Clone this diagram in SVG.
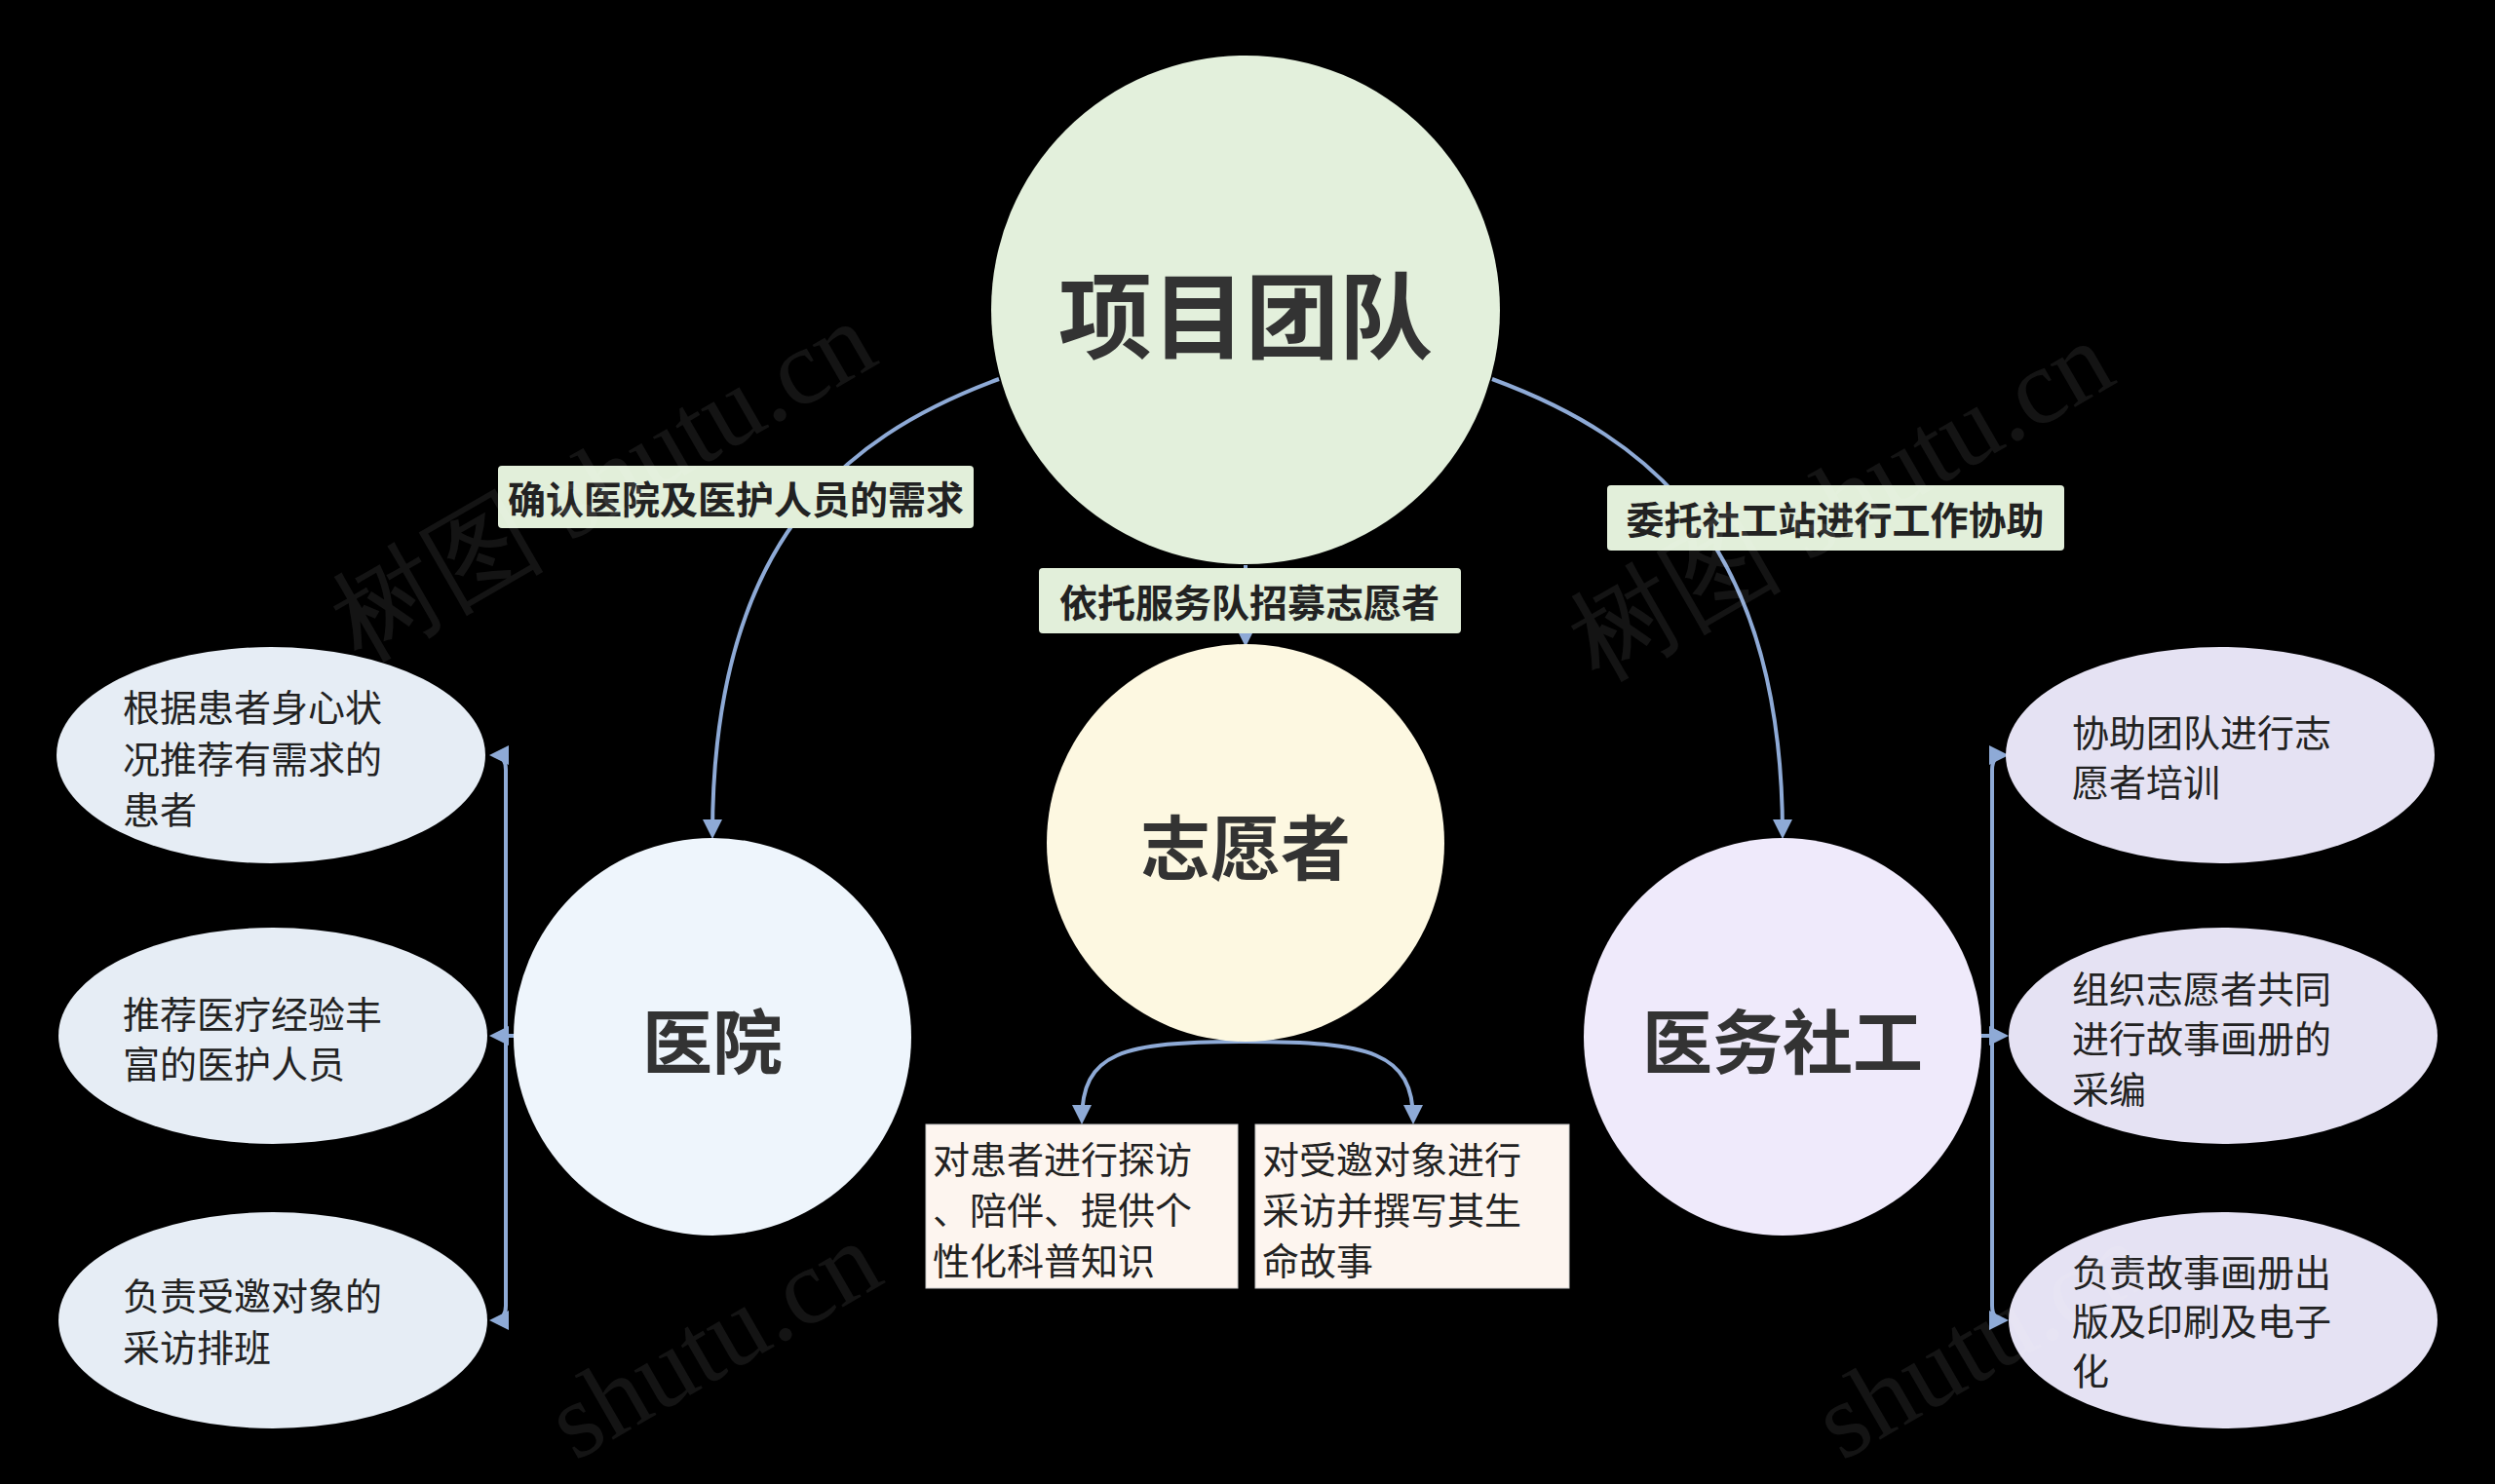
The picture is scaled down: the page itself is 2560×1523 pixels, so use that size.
<svg xmlns="http://www.w3.org/2000/svg" width="2560" height="1523" viewBox="0 0 2560 1523">
<style>
text{font-family:"Noto Sans CJK SC","Noto Sans",sans-serif;fill:#222}
.c{stroke:#8eaad6;stroke-width:4;fill:none}
.t{font-size:38px;dominant-baseline:central}
.lb{font-size:39px;font-weight:bold;text-anchor:middle;dominant-baseline:central}
.big{font-weight:bold;text-anchor:middle;dominant-baseline:central;fill:#333}
.wm{font-family:"Liberation Serif",serif;font-size:110px;fill:#fff;opacity:0.08}
</style>
<defs><marker id="a" viewBox="0 0 10 10" refX="8" refY="5" markerWidth="5" markerHeight="5" orient="auto"><path d="M0,0L10,5L0,10z" fill="#8eaad6"/></marker></defs>
<rect width="2560" height="1523" fill="#000"/>
<g id="connectors">
<path class="c" marker-end="url(#a)" d="M1025,389 C860,450 731,560 731,857"/>
<path class="c" marker-end="url(#a)" d="M1531,389 C1696,450 1829,560 1829,857"/>
<path class="c" marker-end="url(#a)" d="M1278,580 L1278,660"/>
<path class="c" marker-end="url(#a)" d="M1278,1069 C1150,1069 1110,1080 1110,1150"/>
<path class="c" marker-end="url(#a)" d="M1278,1069 C1406,1069 1450,1080 1450,1150"/>
<path class="c" marker-end="url(#a)" d="M519,790 Q519,775 506,775"/>
<path class="c" marker-end="url(#a)" d="M519,1340 Q519,1355 506,1355"/>
<path class="c" d="M519,790 L519,1340"/>
<path class="c" marker-end="url(#a)" d="M528,1063 L506,1063"/>
<path class="c" marker-end="url(#a)" d="M2044,790 Q2044,775 2057,775"/>
<path class="c" marker-end="url(#a)" d="M2044,1340 Q2044,1355 2057,1355"/>
<path class="c" d="M2044,790 L2044,1340"/>
<path class="c" marker-end="url(#a)" d="M2033,1063 L2057,1063"/>
</g>
<g id="n-team"><circle cx="1278" cy="318" r="261" fill="#e3f0dc"/><text class="big" x="1278" y="318" font-size="96">项目团队</text></g>
<g id="n-vol"><circle cx="1278" cy="865" r="204" fill="#fdf8e1"/><text class="big" x="1278" y="865" font-size="72">志愿者</text></g>
<g id="n-hosp"><circle cx="731" cy="1064" r="204" fill="#eef5fc"/><text class="big" x="731" y="1064" font-size="72">医院</text></g>
<g id="n-sw"><circle cx="1829" cy="1064" r="204" fill="#efeafb"/><text class="big" x="1829" y="1064" font-size="72">医务社工</text></g>
<g id="l1"><rect x="511" y="478" width="488" height="64" rx="4" fill="#e2efda"/><text class="lb" x="755" y="510">确认医院及医护人员的需求</text></g>
<g id="l2"><rect x="1066" y="583" width="433" height="67" rx="4" fill="#e2efda"/><text class="lb" x="1282" y="616">依托服务队招募志愿者</text></g>
<g id="l3"><rect x="1649" y="498" width="469" height="67" rx="4" fill="#e2efda"/><text class="lb" x="1883" y="531">委托社工站进行工作协助</text></g>
<g id="e1"><ellipse cx="278" cy="775" rx="220" ry="111" fill="#e6edf5"/><text class="t" x="126" y="723">根据患者身心状</text><text class="t" x="126" y="776">况推荐有需求的</text><text class="t" x="126" y="828">患者</text></g>
<g id="e2"><ellipse cx="280" cy="1063" rx="220" ry="111" fill="#e6edf5"/><text class="t" x="126" y="1038">推荐医疗经验丰</text><text class="t" x="126" y="1089">富的医护人员</text></g>
<g id="e3"><ellipse cx="280" cy="1355" rx="220" ry="111" fill="#e6edf5"/><text class="t" x="126" y="1327">负责受邀对象的</text><text class="t" x="126" y="1380">采访排班</text></g>
<g id="e4"><ellipse cx="2278" cy="775" rx="220" ry="111" fill="#e5e2f3"/><text class="t" x="2126" y="749">协助团队进行志</text><text class="t" x="2126" y="800">愿者培训</text></g>
<g id="e5"><ellipse cx="2281" cy="1063" rx="220" ry="111" fill="#e5e2f3"/><text class="t" x="2126" y="1012">组织志愿者共同</text><text class="t" x="2126" y="1063">进行故事画册的</text><text class="t" x="2126" y="1115">采编</text></g>
<g id="e6"><ellipse cx="2281" cy="1355" rx="220" ry="111" fill="#e5e2f3"/><text class="t" x="2126" y="1303">负责故事画册出</text><text class="t" x="2126" y="1353">版及印刷及电子</text><text class="t" x="2126" y="1404">化</text></g>
<g id="b1"><rect x="950" y="1154" width="320" height="168" fill="#fdf5ef" stroke="#ccc" stroke-width="1"/><text class="t" x="957" y="1187">对患者进行探访</text><text class="t" x="957" y="1239">、陪伴、提供个</text><text class="t" x="957" y="1291">性化科普知识</text></g>
<g id="b2"><rect x="1288" y="1154" width="322" height="168" fill="#fdf5ef" stroke="#ccc" stroke-width="1"/><text class="t" x="1295" y="1187">对受邀对象进行</text><text class="t" x="1295" y="1239">采访并撰写其生</text><text class="t" x="1295" y="1291">命故事</text></g>
<g id="watermark">
<text class="wm" transform="translate(370,680) rotate(-30)">树图 shutu.cn</text>
<text class="wm" transform="translate(1640,700) rotate(-30)">树图 shutu.cn</text>
<text class="wm" transform="translate(590,1500) rotate(-30)">shutu.cn</text>
<text class="wm" transform="translate(1890,1500) rotate(-30)">shutu.cn</text>
</g>
</svg>
